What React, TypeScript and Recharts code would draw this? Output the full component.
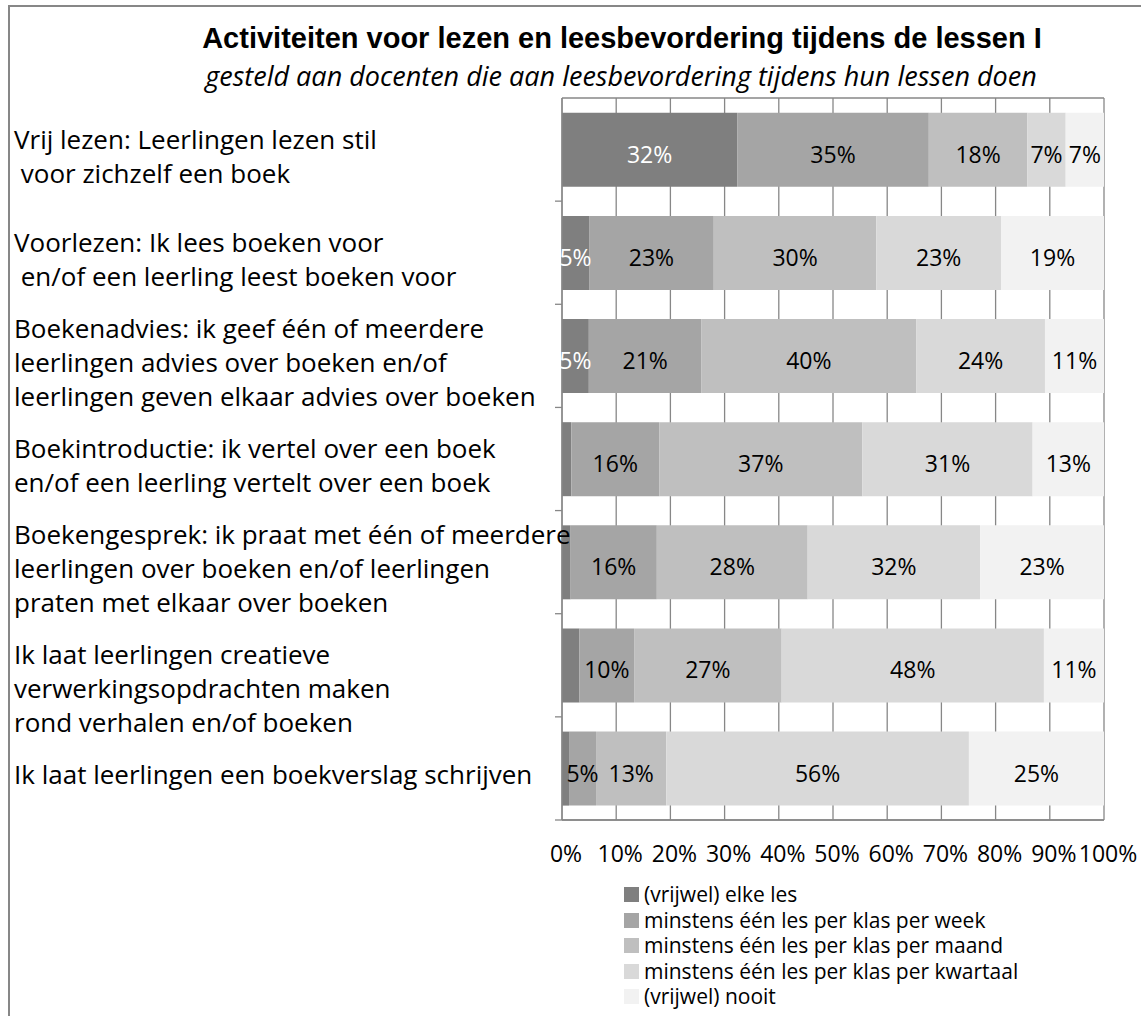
import React from 'react'
import { Bar, BarChart, CartesianGrid, LabelList, Legend, XAxis, YAxis } from 'recharts'

const CATEGORIES = [
  'Vrij lezen: Leerlingen lezen stil\n voor zichzelf een boek',
  'Voorlezen: Ik lees boeken voor\n en/of een leerling leest boeken voor',
  'Boekenadvies: ik geef één of meerdere\nleerlingen advies over boeken en/of\nleerlingen geven elkaar advies over boeken',
  'Boekintroductie: ik vertel over een boek\nen/of een leerling vertelt over een boek',
  'Boekengesprek: ik praat met één of meerdere\nleerlingen over boeken en/of leerlingen\npraten met elkaar over boeken',
  '\nIk laat leerlingen creatieve\nverwerkingsopdrachten maken\nrond verhalen en/of boeken',
  'Ik laat leerlingen een boekverslag schrijven',
]

const ELKE_LES = [32, 5, 5, 1.7, 1.6, 3.2, 1.3]
const PER_WEEK = [35, 23, 21, 16, 16, 10, 5]
const PER_MAAND = [18, 30, 40, 37, 28, 27, 13]
const PER_KWARTAAL = [7, 23, 24, 31, 32, 48, 56]
const NOOIT = [7, 19, 11, 13, 23, 11, 25]

const TICKS = [0, 10, 20, 30, 40, 50, 60, 70, 80, 90, 100]

const SERIES = [
  { key: 's1', name: '(vrijwel) elke les', values: ELKE_LES, color: '#7f7f7f', label: '#ffffff' },
  { key: 's2', name: 'minstens één les per klas per week', values: PER_WEEK, color: '#a5a5a5', label: '#000000' },
  { key: 's3', name: 'minstens één les per klas per maand', values: PER_MAAND, color: '#bfbfbf', label: '#000000' },
  { key: 's4', name: 'minstens één les per klas per kwartaal', values: PER_KWARTAAL, color: '#d9d9d9', label: '#000000' },
  { key: 's5', name: '(vrijwel) nooit', values: NOOIT, color: '#f2f2f2', label: '#000000' },
]

const data = CATEGORIES.map((name, i) => {
  const row: Record<string, string | number> = { name }
  SERIES.forEach((s) => { row[s.key] = s.values[i] })
  return row
})

const FONT = "'Open Sans', sans-serif"
const AXIS = '#878787'

function CategoryTick(props: any) {
  const { x, y, payload } = props
  const half = payload?.offset ?? 51.5
  const lines = String(payload.value).split('\n')
  const mid = y + 7
  return (
    <g>
      <line x1={x - 7} x2={x} y1={y + half} y2={y + half} stroke={AXIS} strokeWidth={1.3} />
      <text fontFamily={FONT} fontSize={26} fill="#000" xmlSpace="preserve" style={{ whiteSpace: 'pre' }}>
        {lines.map((l, i) => (
          <tspan key={i} x={4} y={mid + (i - (lines.length - 1) / 2) * 34 + 9}>{l}</tspan>
        ))}
      </text>
    </g>
  )
}

const renderLabel = (p: any, color: string) => {
  const v = Number(p.value)
  if (!(v >= 4)) return null
  const vb = p.viewBox ?? p
  return (
    <text x={vb.x + vb.width / 2} y={vb.y + vb.height / 2 + 13} textAnchor="middle"
      fontFamily={FONT} fontSize={23} fill={color}>
      {Math.round(v)}%
    </text>
  )
}

function LegendBox() {
  return (
    <div style={{ fontFamily: FONT, fontSize: 21, lineHeight: '25.5px', color: '#000' }}>
      {SERIES.map((s) => (
        <div key={s.key} style={{ display: 'flex', alignItems: 'center', whiteSpace: 'nowrap', height: 25.5 }}>
          <span style={{ width: 15, height: 15, background: s.color, marginRight: 5, flex: 'none' }} />
          {s.name}
        </div>
      ))}
    </div>
  )
}

export default function App() {
  return (
    <>
      <style>{'html,body{margin:0;overflow:hidden;background:#fff}'}</style>
      <div style={{
        position: 'relative', marginLeft: 8, marginTop: 5, width: 1133, height: 1011,
        borderLeft: `2px solid ${AXIS}`, borderTop: `2px solid ${AXIS}`, boxSizing: 'border-box', background: '#fff',
      }}>
        <BarChart width={1131} height={1009} data={data} layout="vertical" stackOffset="expand"
          barCategoryGap="14.3%" margin={{ top: 91, right: 37, bottom: 156, left: 0 }}>
          <CartesianGrid stroke={AXIS} strokeWidth={1.3}
            horizontalCoordinatesGenerator={({ offset }: any) => [offset.top, offset.top + offset.height]} />
          <XAxis type="number" domain={[0, 1]} ticks={TICKS.map((t) => t / 100)} interval={0} height={40}
            tickFormatter={(v) => `${Math.round(v * 100)}%`} tickLine={false} tickSize={0} tickMargin={26}
            axisLine={{ stroke: AXIS, strokeWidth: 1.3 }}
            tick={{ fill: '#000', fontSize: 23, fontFamily: FONT, dx: 4 }} />
          <YAxis type="category" dataKey="name" width={552} interval={0} tickLine={false} tickSize={0} tickMargin={0}
            axisLine={{ stroke: AXIS, strokeWidth: 1.3 }} tick={<CategoryTick />} />
          <Legend layout="vertical" align="center" verticalAlign="middle"
            wrapperStyle={{ left: 614, top: 875, width: 460 }} content={() => <LegendBox />} />
          {SERIES.map((s) => (
            <Bar key={s.key} dataKey={s.key} name={s.name} stackId="a" fill={s.color} isAnimationActive={false}>
              <LabelList dataKey={s.key} content={(p: any) => renderLabel(p, s.label)} />
            </Bar>
          ))}
        </BarChart>
        <div style={{
          position: 'absolute', left: 612, top: 14, transform: 'translateX(-50%)', whiteSpace: 'nowrap',
          fontFamily: "'Liberation Sans', Arial, sans-serif", fontWeight: 'bold', fontSize: 29, lineHeight: '34px',
        }}>
          Activiteiten voor lezen en leesbevordering tijdens de lessen I
        </div>
        <div style={{
          position: 'absolute', left: 611, top: 53, transform: 'translateX(-50%)', whiteSpace: 'nowrap',
          fontFamily: FONT, fontStyle: 'italic', fontSize: 27, lineHeight: '32px',
        }}>
          gesteld aan docenten die aan leesbevordering tijdens hun lessen doen
        </div>
      </div>
    </>
  )
}
